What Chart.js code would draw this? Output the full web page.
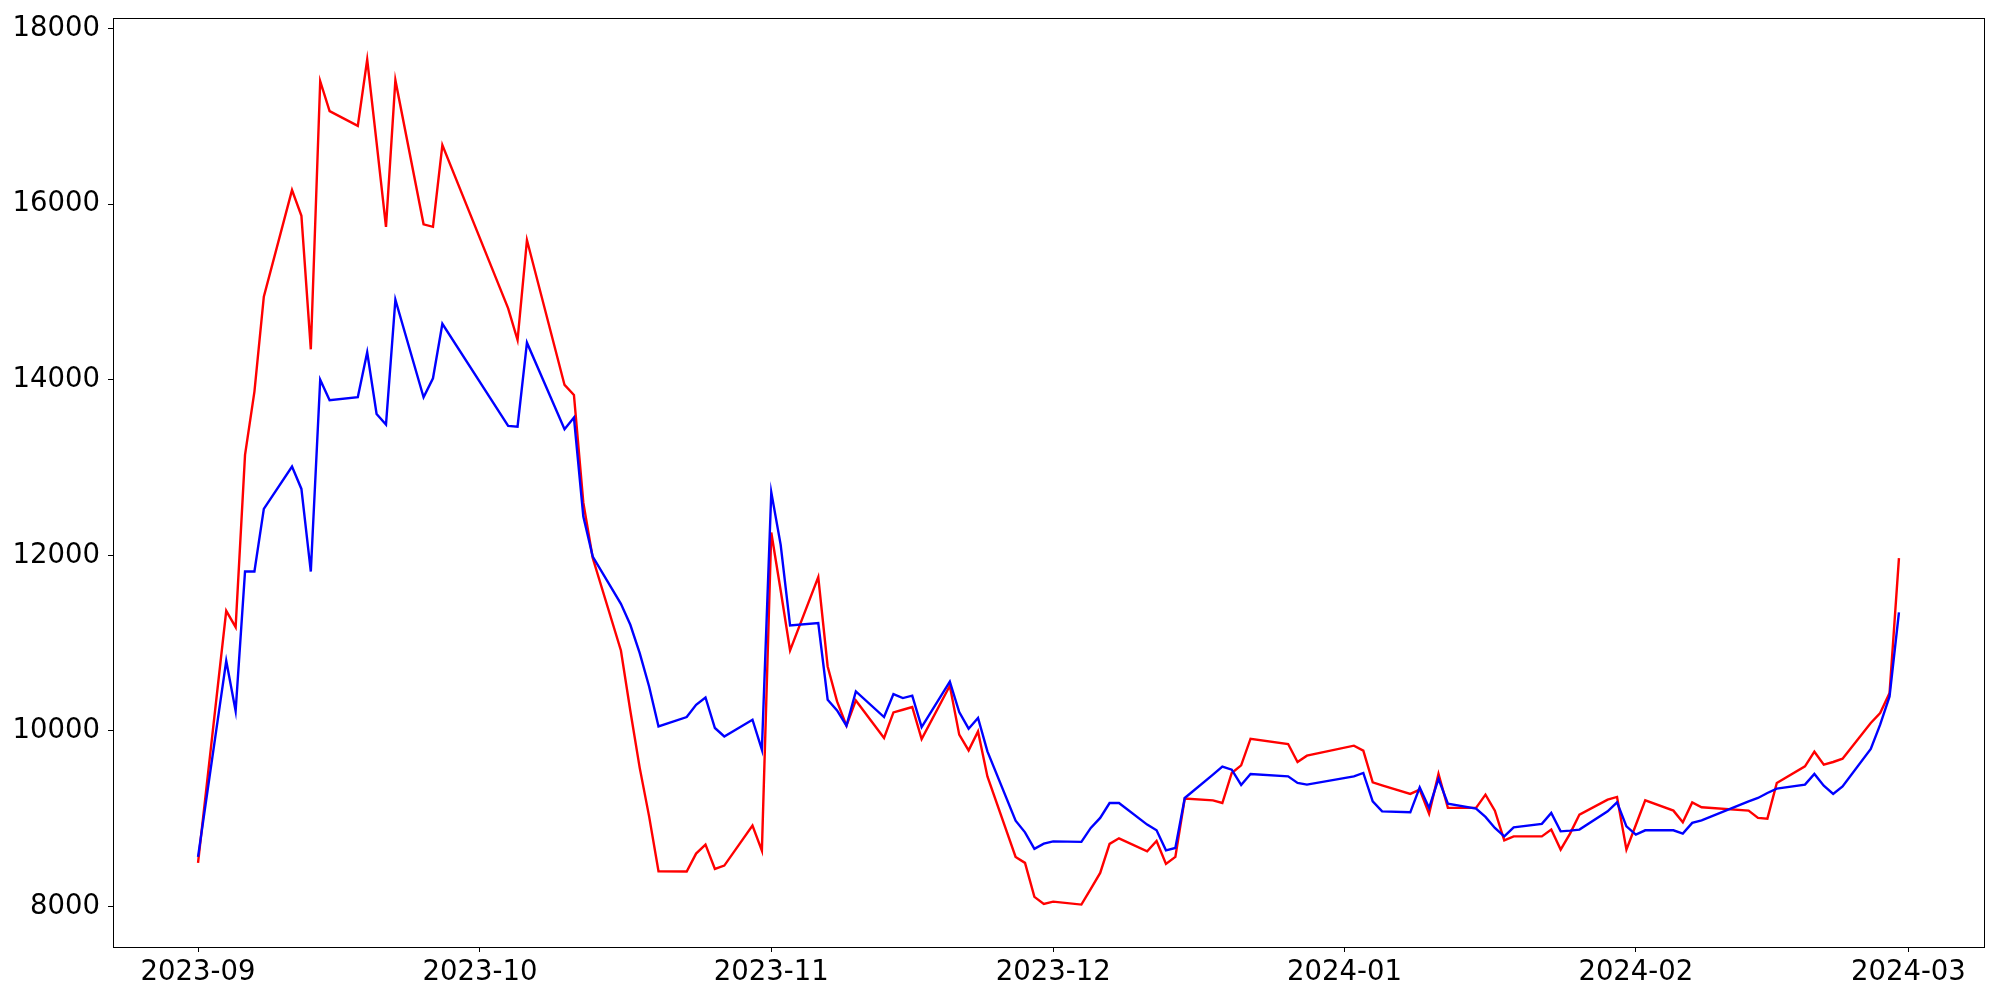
<!DOCTYPE html>
<html>
<head>
<meta charset="utf-8">
<script src="https://cdn.jsdelivr.net/npm/chart.js@4"></script>
<style>
    body { margin: 0; background: #fff; }
    #chart { display: block; }
</style>
</head>
<body>
<canvas id="chart" width="2000" height="1000"></canvas>
<script>
// trading days, counted as days since 2023-09-01
const tradingDays = [0, 3, 4, 5, 6, 7, 10, 11, 12, 13, 14, 17, 18, 19, 20, 21, 24, 25, 26,
    33, 34, 35, 39, 40, 41, 42, 45, 46, 47, 48, 49, 52, 53, 54, 55, 56, 59, 60,
    61, 62, 63, 66, 67, 68, 69, 70, 73, 74, 75, 76, 77, 80, 81, 82, 83, 84, 87, 88, 89, 90,
    91, 94, 95, 96, 97, 98, 101, 102, 103, 104, 105, 108, 109, 110, 111, 112, 116, 117, 118,
    123, 124, 125, 126, 129, 130, 131, 132, 133, 136, 137, 138, 139, 140, 143, 144, 145, 146, 147, 150, 151, 152,
    153, 154, 157, 158, 159, 160, 165, 166, 167, 168, 171, 172, 173, 174, 175, 178, 179, 180, 181];

const redValues = [8498, 11369, 11183, 13144, 13865, 14946, 16160, 15867, 14347, 17400, 17059, 16892, 17647, 16700, 15742, 17412, 15770, 15742, 16672,
    14814, 14453, 15591, 13941, 13827, 12600, 11970, 10917, 10230, 9580, 9028, 8402, 8400, 8604, 8706, 8429, 8467, 8922, 8638,
    12260, 11600, 10917, 11752, 10735, 10337, 10060, 10348, 9920, 10212, 10242, 10273, 9909, 10515, 9958, 9779, 9995, 9483, 8566, 8498, 8111, 8031,
    8057, 8023, 8202, 8384, 8714, 8778, 8630, 8748, 8486, 8566, 9230, 9210, 9180, 9522, 9609, 9912, 9852, 9647, 9719,
    9833, 9776, 9415, 9381, 9283, 9332, 9059, 9511, 9124, 9124, 9275, 9093, 8755, 8800, 8800, 8877, 8649, 8831, 9048, 9218, 9249, 8649,
    8930, 9210, 9093, 8960, 9187, 9131, 9093, 9010, 9002, 9408, 9597, 9764, 9616, 9647, 9685, 10091, 10205, 10432, 11969];

const blueValues = [8566, 10800, 10227, 11816, 11816, 12530, 13011, 12757, 11816, 14001, 13767, 13801, 14313, 13611, 13489, 14912, 13801, 14017, 14638,
    13474, 13466, 14422, 13437, 13569, 12442, 11987, 11449, 11210, 10887, 10507, 10052, 10159, 10299, 10382, 10034, 9938, 10128, 9787,
    12720, 12120, 11202, 11229, 10356, 10234, 10060, 10451, 10159, 10421, 10375, 10402, 10045, 10561, 10216, 10026, 10148, 9768, 8979, 8846, 8657, 8717,
    8743, 8737, 8896, 9010, 9180, 9180, 8934, 8869, 8641, 8668, 9237, 9503, 9594, 9559, 9385, 9511, 9483, 9408, 9389,
    9483, 9522, 9199, 9085, 9074, 9358, 9124, 9454, 9173, 9116, 9021, 8896, 8800, 8903, 8942, 9067, 8857, 8865, 8877, 9085, 9187, 8914,
    8820, 8869, 8869, 8831, 8953, 8983, 9199, 9237, 9294, 9343, 9389, 9511, 9377, 9283, 9369, 9795, 10072, 10394, 11350];

const monthTicks = [0, 30, 61, 91, 122, 153, 182];
const monthLabels = ['2023-09', '2023-10', '2023-11', '2023-12', '2024-01', '2024-02', '2024-03'];
const yTicks = [8000, 10000, 12000, 14000, 16000, 18000];

const toPoints = vals => tradingDays.map((d, i) => ({ x: d, y: vals[i] }));

// matplotlib-style frame round the plot area
const frame = {
    id: 'frame',
    afterDraw(chart) {
        const { ctx, chartArea: a } = chart;
        ctx.save();
        ctx.strokeStyle = '#000';
        ctx.lineWidth = 1;
        ctx.strokeRect(a.left + 0.5, a.top + 0.5, a.right - a.left, a.bottom - a.top);
        ctx.restore();
    }
};

const tickFont = { family: 'DejaVu Sans', size: 27.5 };

new Chart(document.getElementById('chart'), {
    type: 'line',
    data: {
        datasets: [
            { data: toPoints(redValues), borderColor: '#ff0000', borderWidth: 2.4, pointRadius: 0, tension: 0, order: 1 },
            { data: toPoints(blueValues), borderColor: '#0000ff', borderWidth: 2.4, pointRadius: 0, tension: 0, order: 0 }
        ]
    },
    options: {
        responsive: false,
        animation: false,
        devicePixelRatio: 1,
        layout: { padding: { top: 18, right: 16, left: 0, bottom: 0 } },
        plugins: { legend: { display: false }, tooltip: { enabled: false } },
        scales: {
            x: {
                type: 'linear',
                min: -9.05,
                max: 190.05,
                afterBuildTicks: s => { s.ticks = monthTicks.map(v => ({ value: v })); },
                afterFit: s => { s.height = 53; s.paddingLeft = 0; s.paddingRight = 0; },
                ticks: {
                    font: tickFont,
                    color: '#000',
                    padding: 4,
                    maxRotation: 0,
                    callback: v => monthLabels[monthTicks.indexOf(v)]
                },
                grid: { drawOnChartArea: false, tickLength: 5, tickColor: '#000' },
                border: { display: false }
            },
            y: {
                min: 7540,
                max: 18120,
                afterBuildTicks: s => { s.ticks = yTicks.map(v => ({ value: v })); },
                afterFit: s => { s.width = 113; s.paddingTop = 0; s.paddingBottom = 0; },
                ticks: { font: tickFont, color: '#000', padding: 8, callback: v => String(v) },
                grid: { drawOnChartArea: false, tickLength: 5, tickColor: '#000' },
                border: { display: false }
            }
        }
    },
    plugins: [frame]
});
</script>
</body>
</html>
